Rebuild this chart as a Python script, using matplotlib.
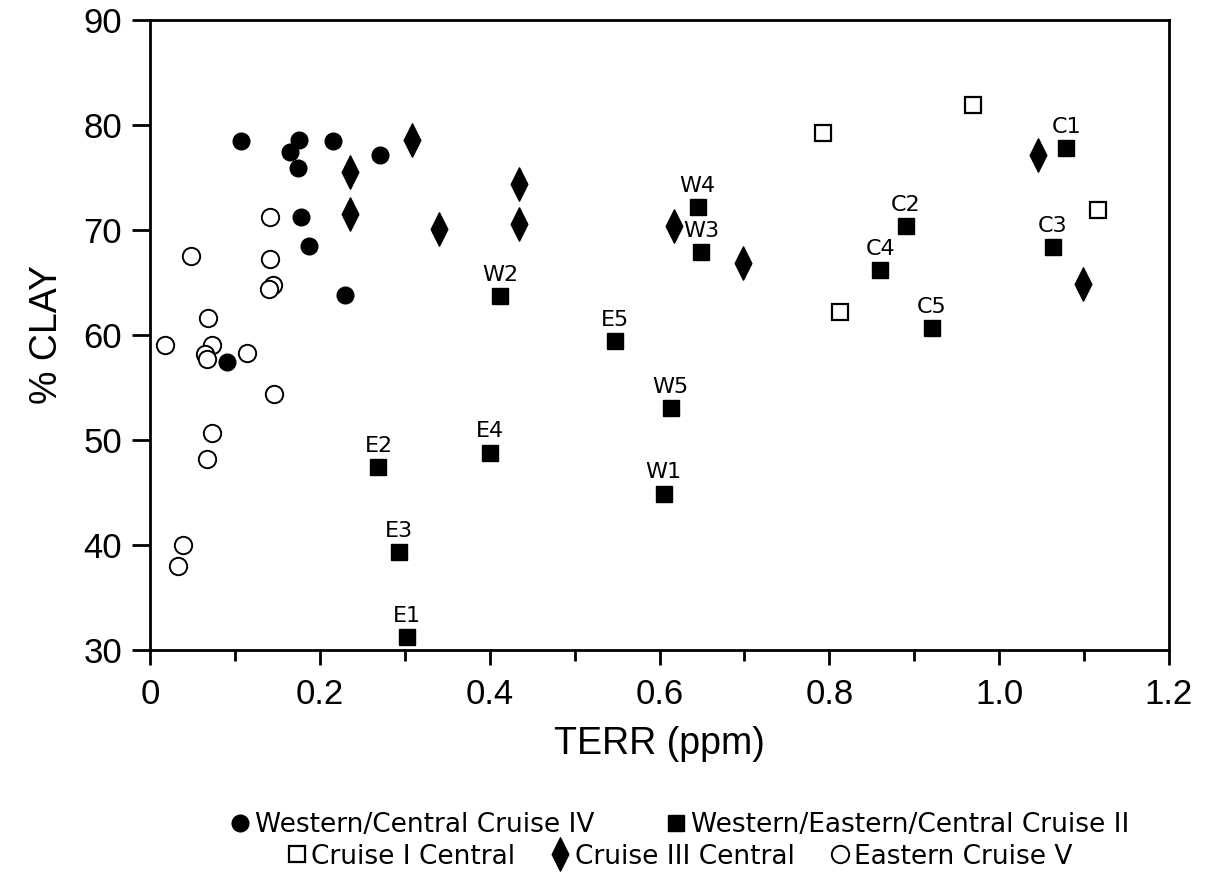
#!/usr/bin/env python3
# % clay vs TERR scatter, five cruises, labelled Cruise II stations
import matplotlib
matplotlib.use("Agg")
import matplotlib.pyplot as plt
from matplotlib.lines import Line2D
from matplotlib.path import Path
import numpy as np

# Western/Central Cruise IV (filled circles)
c4_x = [0.107, 0.175, 0.165, 0.174, 0.215, 0.271, 0.178, 0.187, 0.230, 0.091]
c4_y = [78.5, 78.6, 77.4, 75.9, 78.5, 77.1, 71.2, 68.5, 63.8, 57.4]

# Western/Eastern/Central Cruise II (filled squares, labelled)
c2_lab = ["E1", "E2", "E3", "E4", "E5", "W1", "W2", "W3", "W4", "W5",
          "C1", "C2", "C3", "C4", "C5"]
c2_x = [0.303, 0.269, 0.293, 0.400, 0.548, 0.605, 0.412, 0.649, 0.645, 0.613,
        1.079, 0.890, 1.063, 0.860, 0.921]
c2_y = [31.2, 47.4, 39.3, 48.8, 59.4, 44.9, 63.7, 67.9, 72.2, 53.0,
        77.8, 70.4, 68.4, 66.2, 60.7]

# Cruise I Central (open squares)
c1_x = [0.792, 0.969, 0.813, 1.116]
c1_y = [79.2, 81.9, 62.2, 71.9]

# Cruise III Central (diamonds)
c3_x = [0.308, 0.236, 0.236, 0.340, 0.434, 0.434, 0.617, 0.698, 1.046, 1.099]
c3_y = [78.6, 75.5, 71.5, 70.1, 74.4, 70.6, 70.4, 66.9, 77.1, 64.9]

# Eastern Cruise V (open circles)
c5_x = [0.141, 0.048, 0.141, 0.145, 0.140, 0.068, 0.018, 0.073, 0.065, 0.067,
        0.114, 0.146, 0.073, 0.067, 0.039, 0.033]
c5_y = [71.2, 67.5, 67.2, 64.8, 64.4, 61.6, 59.0, 59.0, 58.2, 57.7,
        58.3, 54.4, 50.7, 48.2, 40.0, 38.0]

xtick_lab = ["0", "0.2", "0.4", "0.6", "0.8", "1.0", "1.2"]

leg_row1 = ["Western/Central Cruise IV", "Western/Eastern/Central Cruise II"]
leg_row2 = ["Cruise I Central", "Cruise III Central", "Eastern Cruise V"]

# tall thin diamond
diamond = Path([(0, 1), (0.5, 0), (0, -1), (-0.5, 0), (0, 1)],
               [Path.MOVETO, Path.LINETO, Path.LINETO, Path.LINETO, Path.CLOSEPOLY])

sty_c4 = dict(marker="o", ms=12, color="black", mfc="black", mec="black", ls="none")
sty_c2 = dict(marker="s", ms=11, color="black", mfc="black", mec="black", ls="none")
sty_c1 = dict(marker="s", ms=12, color="black", mfc="white", mec="black", mew=1.6, ls="none")
sty_c3 = dict(marker=diamond, ms=24, color="black", mfc="black", mec="black", ls="none")
sty_c5 = dict(marker="o", ms=12.5, color="black", mfc="white", mec="black", mew=1.4, ls="none")

plt.rcParams["font.family"] = ["Liberation Sans", "DejaVu Sans"]

fig = plt.figure(figsize=(12.09, 8.76), dpi=100)
ax = fig.add_axes([0.1241, 0.258, 0.8428, 0.7192])

ax.plot(c5_x, c5_y, **sty_c5)
ax.plot(c1_x, c1_y, **sty_c1)
ax.plot(c4_x, c4_y, **sty_c4)
ax.plot(c3_x, c3_y, **sty_c3)
ax.plot(c2_x, c2_y, **sty_c2)

for lab, x, y in zip(c2_lab, c2_x, c2_y):
    ax.annotate(lab, (x, y), xytext=(0, 8), textcoords="offset points",
                ha="center", va="bottom", fontsize=16, family="DejaVu Sans")

ax.set_xlim(0, 1.2)
ax.set_ylim(30, 90)
ax.set_xticks(np.arange(0, 1.21, 0.2))
ax.set_xticklabels(xtick_lab)
ax.set_xticks(np.arange(0.1, 1.2, 0.2), minor=True)
ax.set_yticks(np.arange(30, 91, 10))

for s in ax.spines.values():
    s.set_linewidth(2.0)
ax.tick_params(axis="both", which="major", direction="out", width=2.0,
               labelsize=25, pad=9)
ax.tick_params(axis="x", which="major", length=11)
ax.tick_params(axis="y", which="major", length=13, pad=7)
ax.tick_params(axis="x", which="minor", direction="out", width=2.0, length=8)

ax.set_xlabel("TERR (ppm)", fontsize=27, labelpad=11)
ax.set_ylabel("% CLAY", fontsize=27, labelpad=13)

h1 = [Line2D([], [], **sty_c4), Line2D([], [], **sty_c2)]
h2 = [Line2D([], [], **sty_c1), Line2D([], [], **sty_c3), Line2D([], [], **sty_c5)]
legkw = dict(loc="center", frameon=False, handlelength=0.6, handletextpad=0.25,
             prop={"family": "DejaVu Sans", "size": 19}, borderpad=0, borderaxespad=0)
fig.legend(h1, leg_row1, ncol=2, columnspacing=2.8,
           bbox_to_anchor=(0.563, 0.058), **legkw)
fig.legend(h2, leg_row2, ncol=3, columnspacing=1.4,
           bbox_to_anchor=(0.563, 0.022), **legkw)

fig.savefig("out.png", dpi=100)
